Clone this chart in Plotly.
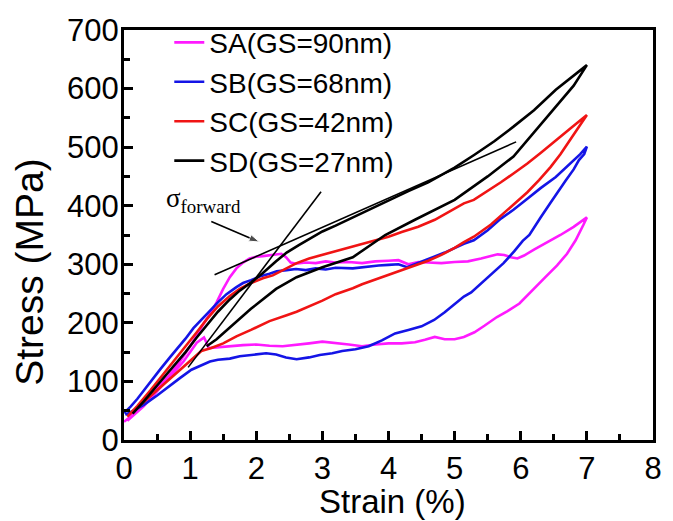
import plotly.graph_objects as go

# ---------------- data ----------------
series_names = ["SA(GS=90nm)", "SB(GS=68nm)", "SC(GS=42nm)", "SD(GS=27nm)"]
series_colors = ["#FF1AFF", "#1414E6", "#F01414", "#000000"]

sa_strain = [0.00, 0.10, 0.23, 0.35, 0.50, 0.68, 0.85, 1.00, 1.10, 1.20, 1.30, 1.40, 1.50, 1.60, 1.70,
             1.80, 1.90, 2.00, 2.10, 2.20, 2.30, 2.38, 2.45, 2.52, 2.60, 2.75, 2.90, 3.05, 3.20, 3.40,
             3.60, 3.80, 4.00, 4.15, 4.30, 4.45, 4.60, 4.80, 5.00, 5.20, 5.40, 5.55, 5.65, 5.75, 5.85,
             5.95, 6.05, 6.20, 6.40, 6.60, 6.80, 7.00,
             6.95, 6.83, 6.70, 6.55, 6.38, 6.20, 5.98, 5.80, 5.64, 5.45, 5.30, 5.14, 5.00, 4.85, 4.70,
             4.55, 4.40, 4.20, 4.00, 3.80, 3.60, 3.40, 3.20, 3.00, 2.80, 2.60, 2.40, 2.20, 2.00, 1.80,
             1.60, 1.40, 1.28, 1.24, 1.21, 1.10, 0.90, 0.60, 0.30, 0.05]
sa_stress = [31, 40, 55, 70, 90, 110, 135, 160, 180, 198, 215, 235, 258, 278, 293,
             303, 310, 313, 314, 315, 317, 318, 312, 303, 301, 303, 302, 305, 303, 304,
             302, 305, 306, 307, 300, 304, 303, 302, 304, 305, 310, 314, 317, 316, 312,
             310, 315, 325, 337, 350, 364, 380,
             368, 341, 318, 298, 279, 258, 233, 220, 210, 195, 184, 176, 172, 172, 176,
             171, 167, 165, 165, 163, 160, 163, 166, 168, 165, 162, 160, 161, 163, 162,
             160, 158, 157, 168, 175, 166, 134, 96, 58, 33]

sb_strain = [0.00, 0.10, 0.20, 0.30, 0.43, 0.55, 0.70, 0.85, 0.93, 1.05, 1.20, 1.32, 1.42, 1.55, 1.70,
             1.80, 1.92, 2.05, 2.20, 2.31, 2.46, 2.60, 2.75, 2.90, 3.05, 3.20, 3.46, 3.65, 3.85, 4.00,
             4.15, 4.28, 4.40, 4.55, 4.69, 4.85, 5.00, 5.14, 5.29, 5.50, 5.70, 5.89, 6.10, 6.30, 6.53,
             6.75, 6.90, 7.00,
             6.96, 6.88, 6.80, 6.68, 6.58, 6.45, 6.30, 6.13, 6.03, 5.90, 5.74, 5.55, 5.39, 5.25, 5.14,
             5.00, 4.85, 4.69, 4.50, 4.30, 4.10, 3.90, 3.70, 3.50, 3.30, 3.15, 2.96, 2.80, 2.61, 2.45,
             2.30, 2.15, 1.92, 1.75, 1.60, 1.42, 1.30, 1.20, 1.02, 0.85, 0.70, 0.50, 0.30, 0.10, 0.02]
sb_stress = [46, 57, 70, 85, 104, 121, 142, 162, 173, 191, 208, 223, 235, 249, 261,
             268, 273, 279, 284, 288, 290, 292, 290, 293, 291, 294, 293, 296, 298, 299,
             300, 295, 300, 306, 313, 320, 328, 335, 341, 358, 378, 393, 412, 430, 449,
             472, 488, 501,
             488, 478, 462, 443, 427, 405, 380, 350, 340, 322, 302, 283, 267, 252, 245,
             232, 218, 205, 194, 188, 182, 170, 160, 155, 152, 148, 145, 141, 138, 141,
             146, 148, 145, 143, 139, 137, 134, 129, 120, 106, 93, 76, 60, 47, 43]

sc_strain = [0.05, 0.20, 0.40, 0.60, 0.80, 0.93, 1.10, 1.25, 1.42, 1.60, 1.75, 1.92, 2.10, 2.25, 2.41,
             2.61, 2.80, 3.00, 3.20, 3.46, 3.70, 4.00, 4.20, 4.45, 4.70, 5.00, 5.14, 5.29, 5.50, 5.70,
             5.89, 6.10, 6.30, 6.53, 6.75, 7.00,
             6.90, 6.78, 6.60, 6.45, 6.28, 6.10, 5.90, 5.74, 5.55, 5.29, 5.14, 5.00, 4.80, 4.60, 4.45,
             4.20, 4.00, 3.80, 3.60, 3.46, 3.20, 3.00, 2.80, 2.61, 2.46, 2.20, 1.92, 1.70, 1.50, 1.32,
             1.17, 1.00, 0.80, 0.60, 0.40, 0.20, 0.05]
sc_stress = [40, 58, 85, 113, 140, 159, 184, 206, 228, 246, 258, 268, 276, 281, 290,
             302, 310, 316, 322, 330, 338, 347, 355, 364, 376, 395, 404, 410, 425, 440,
             455, 472, 490, 512, 532, 555,
             538, 518, 488, 466, 444, 423, 403, 387, 368, 347, 338, 328, 316, 306, 300,
             290, 282, 274, 266, 259, 249, 238, 228, 219, 213, 203, 188, 177, 165, 157,
             152, 135, 115, 95, 75, 55, 40]

sd_strain = [0.13, 0.30, 0.50, 0.70, 0.93, 1.10, 1.25, 1.42, 1.60, 1.75, 1.92, 2.10, 2.30, 2.46, 2.65,
             2.80, 3.00, 3.20, 3.46, 3.70, 4.00, 4.30, 4.60, 5.00, 5.30, 5.60, 5.89, 6.20, 6.53, 6.80,
             7.00,
             6.80, 6.53, 6.20, 5.89, 5.50, 5.14, 5.00, 4.40, 3.95, 3.46, 3.00, 2.61, 2.30, 1.92, 1.60,
             1.40, 1.25]
sd_stress = [45, 66, 93, 120, 150, 175, 196, 219, 240, 255, 269, 285, 305, 320, 333,
             343, 356, 366, 380, 393, 410, 425, 440, 465, 487, 510, 535, 563, 598, 622,
             640,
             605, 569, 525, 484, 450, 421, 410, 376, 350, 312, 295, 278, 258, 224, 193,
             172, 160]

# tangent construction lines and sigma_forward arrow (data coordinates)
tangent_shallow_x = [1.37, 5.93]
tangent_shallow_y = [282, 509]
tangent_steep_x = [0.97, 2.98]
tangent_steep_y = [124, 424]
arrow_x = [1.32, 2.05]
arrow_y = [373, 338]
label_pos = (0.60, 410)

x_ticks = [0, 1, 2, 3, 4, 5, 6, 7, 8]
y_ticks = [0, 100, 200, 300, 400, 500, 600, 700]

# ---------------- figure ----------------
fig = go.Figure()

all_x = [sa_strain, sb_strain, sc_strain, sd_strain]
all_y = [sa_stress, sb_stress, sc_stress, sd_stress]

for name, col, xs, ys in zip(series_names, series_colors, all_x, all_y):
    fig.add_trace(go.Scatter(x=xs, y=ys, mode="lines", name=name,
                             line=dict(color=col, width=2.6)))

for tx, ty in [(tangent_shallow_x, tangent_shallow_y), (tangent_steep_x, tangent_steep_y)]:
    fig.add_trace(go.Scatter(x=tx, y=ty, mode="lines", showlegend=False,
                             line=dict(color="black", width=1.6), hoverinfo="skip"))

# arrow pointing at sigma_forward
fig.add_trace(go.Scatter(x=arrow_x, y=arrow_y, mode="lines+markers", showlegend=False,
                         hoverinfo="skip", line=dict(color="black", width=1.6),
                         marker=dict(symbol="arrow", size=[0, 11], angleref="previous",
                                     color="black")))

sans = "Liberation Sans, Arial, sans-serif"
fig.add_annotation(x=label_pos[0], y=label_pos[1], xref="x", yref="y",
                   text="σ<sub>forward</sub>", showarrow=False, xanchor="left", yanchor="middle",
                   font=dict(family="Liberation Serif, Times New Roman, serif", size=27, color="black"))

# axis titles
fig.add_annotation(x=-0.178, y=0.41, xref="paper", yref="paper", text="Stress (MPa)",
                   textangle=-90, showarrow=False, xanchor="center", yanchor="middle",
                   font=dict(family=sans, size=39, color="black"))
fig.add_annotation(x=0.508, y=-0.151, xref="paper", yref="paper", text="Strain (%)",
                   showarrow=False, xanchor="center", yanchor="middle",
                   font=dict(family=sans, size=33, color="black"))

axis_font = dict(family=sans, size=31, color="black")

fig.update_xaxes(range=[0, 8], tickvals=x_ticks, ticks="inside", ticklen=9, tickwidth=2.5,
                 tickcolor="black", showline=True, linewidth=3, linecolor="black", mirror=True,
                 showgrid=False, zeroline=False, tickfont=axis_font, ticklabelstandoff=-1,
                 minor=dict(dtick=0.5, ticks="inside", ticklen=6, tickwidth=2.5, tickcolor="black"))
fig.update_yaxes(range=[0, 700], tickvals=y_ticks, ticks="inside", ticklen=9, tickwidth=2.5,
                 tickcolor="black", showline=True, linewidth=3, linecolor="black", mirror=True,
                 showgrid=False, zeroline=False, tickfont=axis_font, ticklabelstandoff=-4,
                 minor=dict(dtick=50, ticks="inside", ticklen=6, tickwidth=2.5, tickcolor="black"))

fig.update_layout(width=673, height=521, autosize=False,
                  margin=dict(l=124, r=11, t=30, b=81),
                  paper_bgcolor="white", plot_bgcolor="white",
                  legend=dict(x=0.0856, y=1.03, xanchor="left", yanchor="top",
                              bgcolor="rgba(0,0,0,0)", tracegroupgap=0,
                              font=dict(family=sans, size=28, color="black")),
                  showlegend=True)

fig.write_html("out.html")
